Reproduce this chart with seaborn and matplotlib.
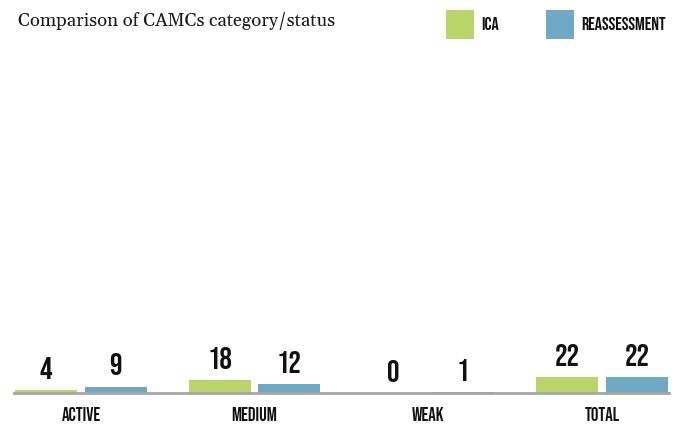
import matplotlib
matplotlib.use("Agg")
import matplotlib.pyplot as plt
import seaborn as sns
import pandas as pd

categories = ["ACTIVE", "MEDIUM", "WEAK", "TOTAL"]
ica = [4, 18, 0, 22]
reassessment = [9, 12, 1, 22]
series_names = ["ICA", "REASSESSMENT"]
colors = ["#b9d46b", "#6faac4"]

df = pd.DataFrame(
    {
        "Category": categories * 2,
        "Count": ica + reassessment,
        "Status": [series_names[0]] * len(ica) + [series_names[1]] * len(reassessment),
    }
)

sns.set_style("white")
plt.rcParams["font.family"] = ["Bebas Neue", "Barlow Condensed", "DejaVu Sans"]
plt.rcParams["text.color"] = "#111111"
plt.rcParams["xtick.color"] = "#111111"

fig = plt.figure(figsize=(6.81, 4.26), dpi=100)
ax = fig.add_axes([14 / 681, 33 / 426, 655 / 681, 343 / 426])

sns.barplot(
    data=df,
    x="Category",
    y="Count",
    hue="Status",
    hue_order=series_names,
    palette=colors,
    width=0.8,
    gap=0.11,
    saturation=1,
    linewidth=0,
    ax=ax,
)

for container in ax.containers:
    ax.bar_label(container, padding=8, fontsize=22.5, color="#111111")

ax.set_ylim(0, 475)
ax.set_xlim(-0.385, 3.385)
ax.set_xlabel("")
ax.set_ylabel("")
ax.set_yticks([])
ax.tick_params(axis="x", length=0, pad=10, labelsize=13.5)
for side in ["top", "left", "right"]:
    ax.spines[side].set_visible(False)
ax.spines["bottom"].set_color("#a6a6a6")
ax.spines["bottom"].set_linewidth(2)

handles, labels = ax.get_legend_handles_labels()
ax.legend_.remove()
fig.legend(
    handles,
    labels,
    loc="upper left",
    bbox_to_anchor=(446 / 681, 1 - 10 / 426),
    ncol=2,
    frameon=False,
    borderpad=0,
    borderaxespad=0,
    handlelength=1.55,
    handleheight=2.1,
    handletextpad=0.4,
    columnspacing=2.6,
    prop={"size": 13},
)

fig.text(18 / 681, 1 - 21 / 426, "Comparison of CAMCs category/status",
         fontsize=13.3, family=["Gelasio", "DejaVu Serif"], va="center", ha="left",
         color="#1a1a1a")

fig.savefig("out.png", dpi=100)
